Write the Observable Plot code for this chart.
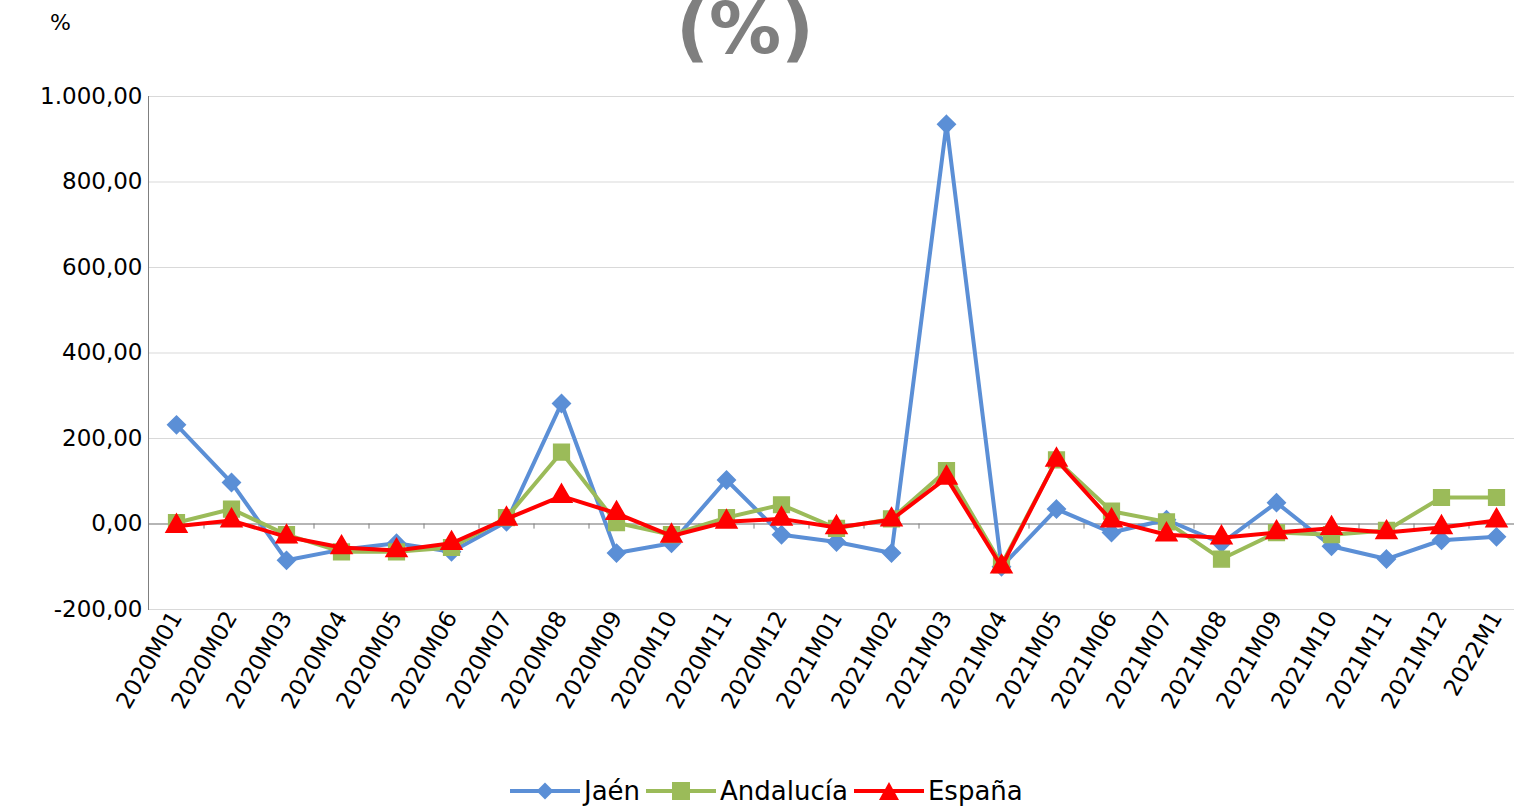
<!DOCTYPE html>
<html><head><meta charset="utf-8">
<script src="https://cdn.jsdelivr.net/npm/d3@7"></script>
<script src="https://cdn.jsdelivr.net/npm/@observablehq/plot@0.6"></script>
<style>
body{margin:0;background:#fff;font-family:"DejaVu Sans",sans-serif}
#wrap{position:relative;width:1514px;height:808px;overflow:hidden}
#title{position:absolute;top:-14px;left:0;width:1490px;text-align:center;font-size:72px;font-weight:bold;color:#7f7f7f}
#pct{position:absolute;top:10px;left:50px;font-size:22px}
#legend{position:absolute;top:776px;left:510px;font-size:26px;display:flex;gap:6px;align-items:center}
#legend span{display:flex;align-items:center;gap:4px}
</style></head><body>
<div id="wrap"><div id="chart"></div><div id="title">(%)</div><div id="pct">%</div>
<div id="legend"></div></div>
<script>
const months = ["2020M01","2020M02","2020M03","2020M04","2020M05","2020M06","2020M07","2020M08","2020M09","2020M10","2020M11","2020M12","2021M01","2021M02","2021M03","2021M04","2021M05","2021M06","2021M07","2021M08","2021M09","2021M10","2021M11","2021M12","2022M1"];
const jaen = [232,97,-85,-60,-45,-65,5,282,-68,-45,103,-25,-42,-68,935,-100,35,-20,10,-45,50,-52,-82,-38,-30];
const andalucia = [3,35,-25,-65,-65,-55,15,168,3,-25,15,45,-10,12,125,-95,150,30,5,-82,-20,-25,-15,62,62];
const espana = [-5,8,-30,-55,-62,-45,12,65,25,-28,5,12,-8,10,108,-100,150,8,-25,-32,-20,-10,-20,-8,8];
const series = [
  {name:"Jaén", vals:jaen, color:"#5b8fd6", symbol:"diamond2", r:8},
  {name:"Andalucía", vals:andalucia, color:"#9bbb59", symbol:"square2", r:10},
  {name:"España", vals:espana, color:"#ff0000", symbol:"triangle2", r:10}
];
const rows = series.flatMap(s => s.vals.map((v,i) => ({s:s.name, m:months[i], v})));
const loc = d3.formatLocale({decimal:",",thousands:".",grouping:[3],minus:"-"});
const fmt = loc.format(",.2f");
const marks = [
  Plot.gridY([-200,0,200,400,600,800,1000], {stroke:"#d9d9d9", strokeOpacity:1}),
  Plot.frame({anchor:"left", stroke:"#7f7f7f"}),
  Plot.ruleY([0], {stroke:"#7f7f7f"}),
  Plot.ruleX(months, {x:d=>d, y1:-12, y2:0, dx:27.5, stroke:"#7f7f7f"})
];
for (const s of series) {
  const d = rows.filter(r => r.s === s.name);
  marks.push(Plot.line(d, {x:"m", y:"v", stroke:s.color, strokeWidth:4}));
  marks.push(Plot.dot(d, {x:"m", y:"v", fill:s.color, stroke:s.color, symbol:()=>s.symbol, r:s.r}));
}
const chart = Plot.plot({
  width:1514, height:808, marginLeft:148, marginRight:-10, marginTop:96, marginBottom:199,
  style:{fontFamily:"DejaVu Sans", fontSize:"23px", background:"#fff", overflow:"visible"},
  symbol:{type:"identity"},
  x:{type:"point", domain:months, padding:0.5, label:null, tickSize:0, tickRotate:-60, tickPadding:4},
  y:{domain:[-200,1000], ticks:[-200,0,200,400,600,800,1000], tickFormat:fmt, label:null, tickSize:0, tickPadding:6},
  marks
});
document.getElementById("chart").append(chart);
const lg = document.getElementById("legend");
for (const s of series) {
  const shape = s.symbol==="diamond2" ? `<rect x="29" y="2" width="12" height="12" transform="rotate(45 35 8)" fill="${s.color}"/>`
    : s.symbol==="square2" ? `<rect x="26" y="-1" width="18" height="18" fill="${s.color}"/>`
    : `<polygon points="35,-1 45,17 25,17" fill="${s.color}"/>`;
  lg.insertAdjacentHTML("beforeend", `<span><svg width="70" height="20" viewBox="0 -2 70 20" overflow="visible"><line x1="0" x2="70" y1="8" y2="8" stroke="${s.color}" stroke-width="4"/>${shape}</svg>${s.name}</span>`);
}
</script></body></html>
